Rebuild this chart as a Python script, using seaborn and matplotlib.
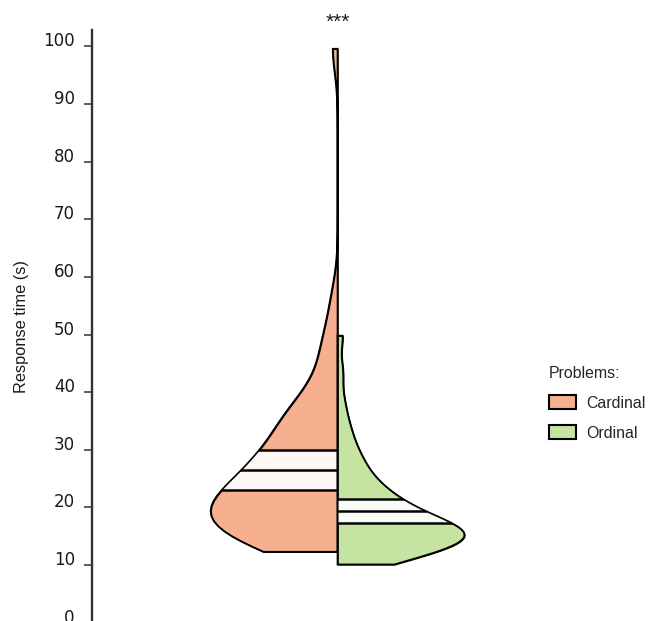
import numpy as np
import pandas as pd
import matplotlib
matplotlib.use("Agg")
import matplotlib.pyplot as plt
import seaborn as sns
from matplotlib.colors import to_rgb
from matplotlib.patches import PathPatch, Rectangle

# Response times (s) per participant, one list per problem type
cardinal_times = [
    12.3, 12.5, 12.7, 12.9, 13.1, 13.5, 13.9, 14.3, 14.8, 15.9,
    16.1, 16.4, 16.7, 17.0, 17.3, 17.6, 17.9,
    18.2, 18.6, 19.0, 19.3, 19.6, 19.9,
    20.2, 20.6, 21.0, 21.3, 21.6, 21.9,
    22.3, 22.8, 23.3, 23.8, 24.2, 24.8, 25.4, 25.9,
    26.4, 27.1, 27.5, 27.8, 28.3, 29.0, 29.7,
    30.5, 31.5, 32.0, 32.4, 33.6, 34.5, 35.5, 36.0, 37.0, 37.5, 38.5,
    40.0, 42.5, 45.0, 48.0, 50.0, 56.0, 99.6,
]
ordinal_times = [
    10.1, 10.4, 10.6, 10.8, 11.2, 11.5, 11.8, 12.1, 12.4, 12.9,
    13.1, 13.4, 13.6, 13.9, 14.1, 14.3, 14.4, 14.5, 14.7, 14.9,
    15.1, 15.3, 15.4, 15.5, 15.7, 15.9, 16.1, 16.4, 16.6, 16.9,
    17.1, 17.4, 17.6, 17.9, 18.2, 18.5, 18.8, 19.2, 19.5, 19.8,
    20.3, 20.7, 21.3, 21.7, 22.2, 22.7, 23.3, 23.8, 24.6, 25.5,
    26.4, 27.3, 28.4, 29.6, 31.0, 33.0, 35.0, 38.4, 43.5, 49.8,
]
problem_types = ["Cardinal", "Ordinal"]
problem_colors = ["#F6B08F", "#C5E3A1"]
y_ticks = [0, 10, 20, 30, 40, 50, 60, 70, 80, 90, 100]
significance = "***"

df = pd.DataFrame({
    "condition": "all",
    "Problems": [problem_types[0]] * len(cardinal_times)
    + [problem_types[1]] * len(ordinal_times),
    "time": cardinal_times + ordinal_times,
})
times_by_type = {problem_types[0]: cardinal_times, problem_types[1]: ordinal_times}


def nrd0(kde):
    """Silverman's rule of thumb (R's bw.nrd0), returned as a KDE factor."""
    x = kde.dataset.ravel()
    sd = x.std(ddof=1)
    q75, q25 = np.percentile(x, [75, 25])
    h = 0.9 * min(sd, (q75 - q25) / 1.34) * x.size ** -0.2
    return h / sd


sns.set_style("ticks")
plt.rcParams["font.family"] = ["Liberation Sans", "DejaVu Sans"]

W, H = 660, 621
fig = plt.figure(figsize=(W / 100, H / 100), dpi=100)
fig.patch.set_facecolor("white")
ax = fig.add_axes([91.5 / W, 1 - 622.6 / H, 492 / W, (622.6 - 30) / H])

sns.violinplot(
    data=df, x="condition", y="time", hue="Problems",
    hue_order=problem_types, palette=problem_colors,
    split=True, inner=None, cut=0, density_norm="width",
    bw_method=nrd0, width=0.516, linewidth=1.1, linecolor="black",
    saturation=1, ax=ax,
)

# Mean and 95% confidence band drawn inside each half violin
for coll in list(ax.collections):
    path = coll.get_paths()[0]
    side = 0 if path.vertices[:, 0].mean() < 0 else 1
    ptype = problem_types[side]
    t = np.asarray(times_by_type[ptype])
    mean = t.mean()
    half = 1.96 * t.std(ddof=1) / np.sqrt(t.size)
    lo, hi = mean - half, mean + half
    base = np.array(to_rgb(problem_colors[side]))
    band_color = 0.1 * base + 0.9 * np.ones(3)
    z = coll.get_zorder()
    band = Rectangle((-0.5, lo), 1.0, hi - lo, facecolor=band_color,
                     edgecolor="none", zorder=z + 0.1)
    ax.add_patch(band)
    band.set_clip_path(path, ax.transData)
    lines = ax.hlines([lo, mean, hi], -0.5, 0.5, colors="black",
                      linewidth=1.8, zorder=z + 0.2)
    lines.set_clip_path(path, ax.transData)
    ax.add_patch(PathPatch(path, facecolor="none", edgecolor="black",
                           linewidth=1.2, zorder=z + 0.3))

ax.set_xlim(-0.5, 0.5)
ax.set_ylim(0, 102.85)
ax.set_yticks(y_ticks)
ax.set_xticks([])
ax.set_xlabel("")
ax.set_ylabel("")
for side in ["top", "right", "bottom"]:
    ax.spines[side].set_visible(False)
ax.spines["left"].set_color("#333333")
ax.spines["left"].set_linewidth(1.7)
ax.tick_params(axis="y", length=5.5, width=1.1, color="#333333", pad=6.5,
               labelsize=12, labelcolor="#1a1a1a")
for lbl in ax.get_yticklabels():
    lbl.set_family("DejaVu Sans")
    lbl.set_verticalalignment("baseline")

fig.text(22 / W, 1 - 326.5 / H, "Response time (s)", rotation=90,
         ha="center", va="center", fontsize=11.8, color="#1a1a1a")
fig.text(338 / W, 1 - 27.5 / H, significance, ha="center", va="baseline",
         fontsize=15, color="#1a1a1a")

sns.move_legend(
    ax, "upper left", bbox_to_anchor=(549 / W, 1 - 366 / H),
    bbox_transform=fig.transFigure, frameon=False, title="Problems:",
    alignment="left", fontsize=11.4, title_fontsize=11.4,
    handlelength=1.7, handleheight=1.0, handletextpad=0.65,
    labelspacing=0.9, borderpad=0, borderaxespad=0,
)
for h in ax.get_legend().legend_handles:
    h.set_edgecolor("black")
    h.set_linewidth(1.5)

fig.savefig("out.png", dpi=100)
